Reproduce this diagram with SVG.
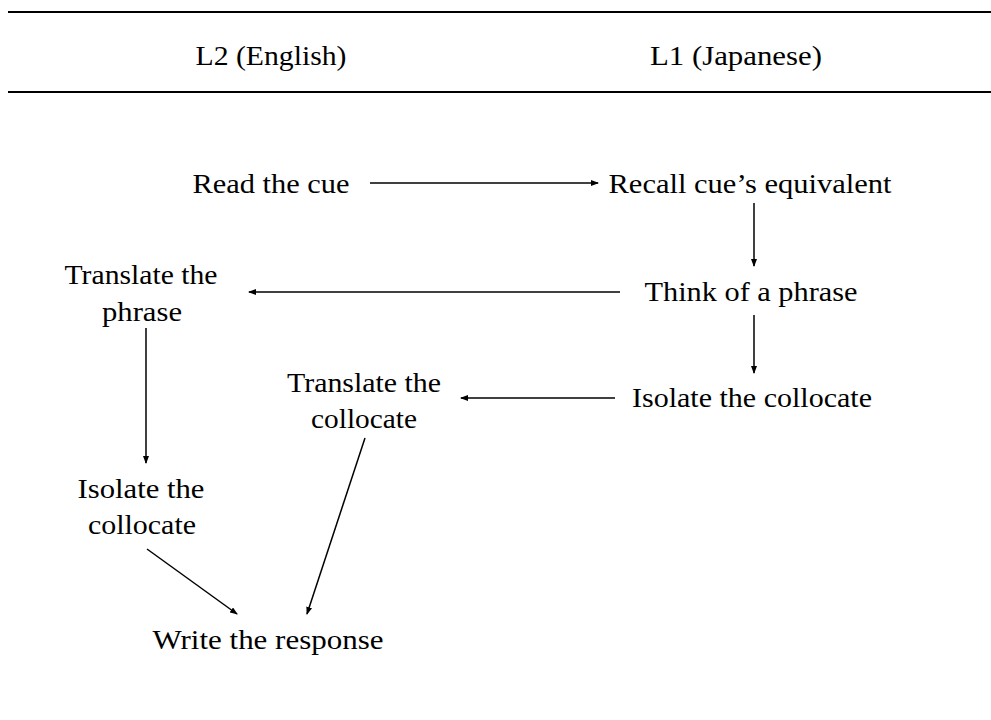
<svg xmlns="http://www.w3.org/2000/svg" width="991" height="720" viewBox="0 0 991 720">
<defs>
<marker id="ah" markerWidth="8" markerHeight="6" refX="7" refY="3" orient="auto" markerUnits="userSpaceOnUse">
<path d="M0,0 L8,3 L0,6 z" fill="#000"/>
</marker>
<style>
text{font-family:"Liberation Serif","Times New Roman",serif;font-size:27px;fill:#000;text-anchor:middle}
.ln{stroke:#000;stroke-width:1.5;fill:none}
.c{stroke:#000;stroke-width:1.5;fill:none;marker-end:url(#ah)}
</style>
</defs>
<rect width="991" height="720" fill="#fff"/>
<line class="ln" x1="8" y1="12" x2="991" y2="12" style="stroke-width:2"/>
<line class="ln" x1="8" y1="92" x2="991" y2="92" style="stroke-width:2"/>
<g id="header">
<text x="271" y="65" textLength="151" lengthAdjust="spacingAndGlyphs">L2 (English)</text>
<text x="736" y="65" textLength="172" lengthAdjust="spacingAndGlyphs">L1 (Japanese)</text>
</g>
<g id="n-read"><text x="271" y="193" textLength="157" lengthAdjust="spacingAndGlyphs">Read the cue</text></g>
<g id="n-recall"><text x="750" y="193" textLength="283" lengthAdjust="spacingAndGlyphs">Recall cue’s equivalent</text></g>
<g id="n-think"><text x="751" y="301" textLength="213" lengthAdjust="spacingAndGlyphs">Think of a phrase</text></g>
<g id="n-translate-phrase">
<text x="141" y="284" textLength="153" lengthAdjust="spacingAndGlyphs">Translate the</text>
<text x="142" y="321" textLength="80" lengthAdjust="spacingAndGlyphs">phrase</text>
</g>
<g id="n-isolate-l1"><text x="752" y="407" textLength="240" lengthAdjust="spacingAndGlyphs">Isolate the collocate</text></g>
<g id="n-translate-collocate">
<text x="364" y="392" textLength="154" lengthAdjust="spacingAndGlyphs">Translate the</text>
<text x="364" y="428" textLength="106" lengthAdjust="spacingAndGlyphs">collocate</text>
</g>
<g id="n-isolate-l2">
<text x="141" y="498" textLength="127" lengthAdjust="spacingAndGlyphs">Isolate the</text>
<text x="142" y="534" textLength="108" lengthAdjust="spacingAndGlyphs">collocate</text>
</g>
<g id="n-write"><text x="268" y="649" textLength="231" lengthAdjust="spacingAndGlyphs">Write the response</text></g>
<g id="connectors">
<line class="c" x1="370" y1="183" x2="598" y2="183"/>
<line class="c" x1="754" y1="203" x2="754" y2="266"/>
<line class="c" x1="620" y1="292" x2="249" y2="292"/>
<line class="c" x1="754" y1="315" x2="754" y2="373"/>
<line class="c" x1="615" y1="398" x2="461" y2="398"/>
<line class="c" x1="146" y1="328" x2="146" y2="463"/>
<line class="c" x1="147" y1="549" x2="237" y2="614"/>
<line class="c" x1="365" y1="438" x2="307" y2="614"/>
</g>
</svg>
